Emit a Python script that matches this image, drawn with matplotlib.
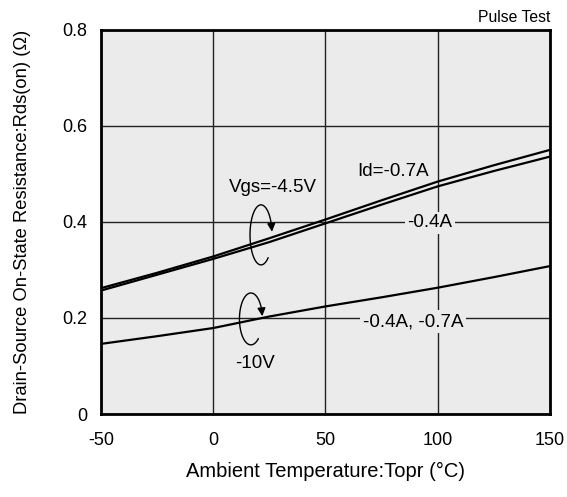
import numpy as np
import matplotlib
matplotlib.use('Agg')
import matplotlib.pyplot as plt

plt.rcParams['font.family'] = ['Liberation Sans', 'DejaVu Sans']
plt.rcParams['axes.unicode_minus'] = False

# ambient temperature (C)
temp = [-50, -25, 0, 25, 50, 75, 100, 125, 150]
# Rds(on) in ohm
rds_45v_07a = [0.262, 0.294, 0.328, 0.366, 0.405, 0.445, 0.484, 0.518, 0.550]
rds_45v_04a = [0.257, 0.290, 0.323, 0.358, 0.397, 0.436, 0.474, 0.506, 0.536]
rds_10v = [0.146, 0.162, 0.179, 0.203, 0.224, 0.243, 0.263, 0.285, 0.308]

x_ticks = [-50, 0, 50, 100, 150]
y_ticks = [0, 0.2, 0.4, 0.6, 0.8]
y_labels = ['0', '0.2', '0.4', '0.6', '0.8']

bg = '#ebebeb'

fig = plt.figure(figsize=(5.67, 4.97), dpi=100)
ax = fig.add_axes([0.178, 0.167, 0.792, 0.773])
ax.set_facecolor(bg)

ax.plot(temp, rds_45v_07a, color='black', lw=1.6)
ax.plot(temp, rds_45v_04a, color='black', lw=1.6)
ax.plot(temp, rds_10v, color='black', lw=1.6)

ax.set_xlim(-50, 150)
ax.set_ylim(0, 0.8)
ax.set_xticks(x_ticks)
ax.set_yticks(y_ticks)
ax.set_yticklabels(y_labels)
ax.grid(True, color='#222222', lw=1.0)
ax.set_axisbelow(True)
ax.tick_params(length=0, labelsize=13)
ax.tick_params(axis='x', pad=13)
ax.tick_params(axis='y', pad=10)
for s in ax.spines.values():
    s.set_linewidth(2)

ax.set_xlabel('Ambient Temperature:Topr (\u00b0C)', fontsize=14.5, labelpad=9)
ax.set_ylabel('Drain-Source On-State Resistance:Rds(on) (\u03a9)', fontsize=13.2, labelpad=22)

# curve labels
fs = 13.5
ax.text(26.6, 0.471, 'Vgs=-4.5V', fontsize=fs, ha='center', va='center')
ax.text(80, 0.504, 'Id=-0.7A', fontsize=fs, ha='center', va='center')
ax.text(96.5, 0.398, '-0.4A', fontsize=fs, ha='center', va='center',
        bbox=dict(facecolor=bg, edgecolor='none', pad=2))
ax.text(89, 0.192, '-0.4A, -0.7A', fontsize=fs, ha='center', va='center',
        bbox=dict(facecolor=bg, edgecolor='none', pad=2))
ax.text(18.6, 0.106, '-10V', fontsize=fs, ha='center', va='center')
ax.text(1.0, 1.012, 'Pulse Test', fontsize=11.3, ha='right', va='bottom',
        transform=ax.transAxes)

# looped arrows marking each curve group
def loop(cx, cy, w, h):
    t = np.radians(np.linspace(-50, -340, 120))
    ax.plot(cx + w / 2 * np.cos(t), cy + h / 2 * np.sin(t), color='black', lw=1.0)
    t0, t1 = np.radians(20), np.radians(6)
    p0 = (cx + w / 2 * np.cos(t0), cy + h / 2 * np.sin(t0))
    p1 = (cx + w / 2 * np.cos(t1), cy + h / 2 * np.sin(t1))
    ax.annotate('', xy=p1, xytext=p0,
                arrowprops=dict(arrowstyle='-|>', color='black', lw=1.0,
                                mutation_scale=12, shrinkA=0, shrinkB=0))

loop(21.3, 0.373, 9.8, 0.125)
loop(16.8, 0.198, 10.2, 0.108)

plt.savefig('out.png', dpi=100)
